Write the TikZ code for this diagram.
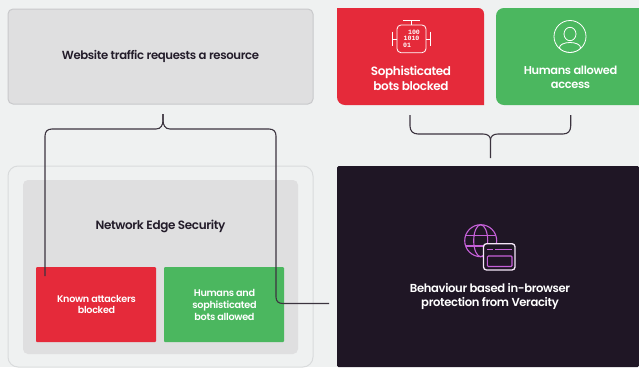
\documentclass[tikz,border=0pt]{standalone}
\usepackage{fontspec}
\setmainfont{Poppins}[BoldFont={Poppins SemiBold},LetterSpace=-3]
\newfontfamily\binfont{Liberation Mono}[Scale=1]
\definecolor{bgc}{HTML}{EFF1F1}
\definecolor{grayc}{HTML}{DFDFE0}
\definecolor{edgec}{HTML}{C8C9CB}
\definecolor{outerc}{HTML}{D9DBDC}
\definecolor{redc}{HTML}{E52A3A}
\definecolor{greenc}{HTML}{4BB75F}
\definecolor{darkc}{HTML}{1F1625}
\definecolor{linec}{HTML}{3C343F}
\definecolor{purc}{HTML}{C560D8}
\definecolor{inkc}{HTML}{231C2A}
\tikzset{
  box/.style={draw=none,inner sep=0pt,outer sep=0pt,minimum width=#1},
  wtext/.style={text=white,font=\bfseries\fontsize{#1}{#1}\selectfont,align=center,inner sep=0pt},
  dtext/.style={text=inkc,font=\bfseries\fontsize{#1}{#1}\selectfont,align=center,inner sep=0pt},
  brace/.style={draw=linec,line width=1.1pt},
  iconw/.style={draw=white,line width=.8pt},
  iconp/.style={draw=purc,line width=1.1pt},
}
\begin{document}
\begin{tikzpicture}[x=1pt,y=-1pt]
\useasboundingbox (0,0) rectangle (639,367);
\clip (0,0) rectangle (639,367);
\fill[bgc] (0,0) rectangle (639,367);
% left top box
\node[box=305pt,minimum height=95pt,fill=grayc,draw=edgec,line width=1pt,rounded corners=5pt,anchor=north west] (web) at (8,9) {};
\node[dtext=11.7] (webt) at (160.5,56.5) {Website traffic requests a resource};
% outer frame
\node[box=305pt,minimum height=201pt,draw=outerc,line width=1pt,rounded corners=10pt,anchor=north west] (outer) at (8,166) {};
\node[box=275pt,minimum height=174pt,fill=grayc,rounded corners=5pt,anchor=north west] (inner) at (23,180) {};
\node[dtext=12] (nes) at (160.5,226) {Network Edge Security};
\node[box=120pt,minimum height=75pt,fill=redc,rounded corners=1pt,anchor=north west] (kab) at (36,267) {};
\node[wtext=9.6] (kabt) at (96.5,304.5) {Known attackers\\[1.6pt]blocked};
\node[box=120pt,minimum height=75pt,fill=greenc,rounded corners=1pt,anchor=north west] (hsb) at (164,267) {};
\node[wtext=9.7] (hsbt) at (224.5,305) {Humans and\\[1.6pt]sophisticated\\[1.6pt]bots allowed};
% top right cards
\fill[redc] (337,8) -- (478,8) .. controls (481.5,8) and (484,10.5) .. (484,14) -- (484,105) -- (345,105) .. controls (340.5,105) and (337,101.5) .. (337,97) -- cycle;
\node[wtext=12] (sbb) at (411,78.5) {Sophisticated\\[1.5pt]bots blocked};
\fill[greenc] (504,8) -- (639,8) -- (639,105) -- (504,105) .. controls (499.5,105) and (496,101.5) .. (496,97) -- (496,16) .. controls (496,11.5) and (499.5,8) .. (504,8) -- cycle;
\node[wtext=11.4] (haa) at (570.5,77.5) {Humans allowed\\[2pt]access};
% dark panel
\node[box=302pt,minimum height=201pt,fill=darkc,rounded corners=1.5pt,anchor=north west] (veracity) at (337,166) {};
\node[wtext=11.6] (vt) at (490,296) {Behaviour based in-browser\\[2.4pt]protection from Veracity};
% connectors
\coordinate (c1) at (163,114);
\coordinate (c1a) at (45,276);
\coordinate (c1b) at (329,303.5);
\coordinate (c2a) at (410,115);
\coordinate (c2b) at (570.7,115);
\coordinate (c2c) at (490.5,158);
\draw[brace] (c1) -- (163,120) .. controls (163,125) and (161,129) .. (156,129) -- (52,129)
  .. controls (47.5,129) and (45,131.5) .. (45,136) -- (c1a);
\draw[brace] (c1) -- (163,120) .. controls (163,125) and (165,129) .. (170,129) -- (269,129)
  .. controls (273.5,129) and (276,131.5) .. (276,136) -- (276,297)
  .. controls (276,301.5) and (278.5,303.5) .. (283,303.5) -- (c1b);
\draw[brace] (c2a) -- (410,126) .. controls (410,131) and (413,134) .. (418,134) -- (483,134)
  .. controls (487.5,134) and (490.5,136) .. (490.5,140) -- (c2c);
\draw[brace] (c2b) -- (570.7,126) .. controls (570.7,131) and (568,134) .. (563,134) -- (498,134)
  .. controls (493.5,134) and (490.5,136) .. (490.5,140);
% bot icon
\draw[iconw,rounded corners=4pt] (397,25) rectangle (426,52.7);
\draw[iconw] (411.5,25) -- (411.5,20) (403,20) -- (419.5,20);
\draw[iconw] (397,39) -- (392.5,39) (392.5,31.5) -- (392.5,46);
\draw[iconw] (426,39) -- (430.5,39) (430.5,31.5) -- (430.5,46);
\node[text=white,font=\binfont\bfseries\fontsize{6.6}{6.6}\selectfont,inner sep=0pt] (b1) at (414,32.5) {100};
\node[text=white,font=\binfont\bfseries\fontsize{6.6}{6.6}\selectfont,inner sep=0pt] (b2) at (411.5,38.8) {1010};
\node[text=white,font=\binfont\bfseries\fontsize{6.6}{6.6}\selectfont,inner sep=0pt] (b3) at (407,45.2) {01};
% person icon
\draw[iconw] (570,36.5) circle[radius=16pt];
\draw[iconw] (570,34) ellipse[x radius=6pt,y radius=6.7pt];
\begin{scope}
\clip (570,36.5) circle[radius=16pt];
\draw[iconw] (570,47.5) ellipse[x radius=10.5pt,y radius=5pt];
\end{scope}
% globe icon
\draw[iconp] (480.7,240.7) circle[radius=16pt];
\draw[iconp] (480.7,240.7) ellipse[x radius=7pt,y radius=16pt];
\draw[iconp] (465.5,235.5) -- (496,235.5) (465.5,246) -- (496,246);
\draw[draw=white!85!purc,fill=darkc,line width=1.3pt,rounded corners=3pt] (483.5,243.7) rectangle (515,270);
\draw[iconp] (487,249.5) -- (493,249.5) (495,249.5) -- (512,249.5);
\draw[iconp,rounded corners=1pt] (487.3,256) rectangle (512,266.5);
\end{tikzpicture}
\end{document}
